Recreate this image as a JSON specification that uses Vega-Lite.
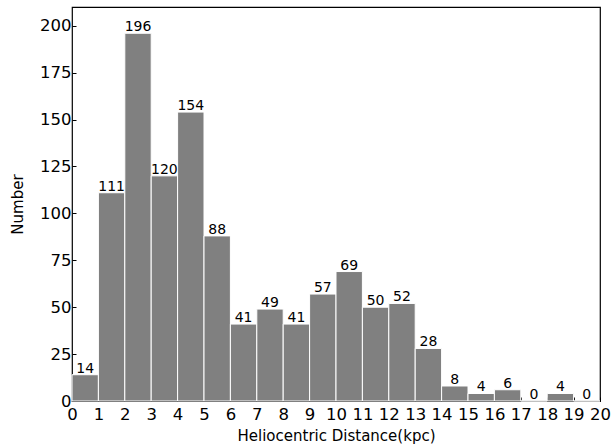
{
  "$schema": "https://vega.github.io/schema/vega-lite/v6.json",
  "width": 528,
  "height": 394,
  "autosize": "none",
  "padding": {"left": 72, "top": 7, "right": 11, "bottom": 45},
  "config": {
    "font": "DejaVu Sans",
    "view": {"stroke": "black", "strokeWidth": 1.2},
    "axis": {"grid": false, "domain": false, "tickSize": -4, "tickColor": "black",
      "labelFont": "DejaVu Sans", "labelFontSize": 16.5, "labelColor": "black", "labelOverlap": false, "labelFlush": false, "labelBound": false,
      "titleFont": "DejaVu Sans", "titleFontSize": 15, "titleFontWeight": "normal", "titleColor": "black"}
  },
  "data": {"values": [
    {"lo": 0, "hi": 1, "n": 14}, {"lo": 1, "hi": 2, "n": 111}, {"lo": 2, "hi": 3, "n": 196},
    {"lo": 3, "hi": 4, "n": 120}, {"lo": 4, "hi": 5, "n": 154}, {"lo": 5, "hi": 6, "n": 88},
    {"lo": 6, "hi": 7, "n": 41}, {"lo": 7, "hi": 8, "n": 49}, {"lo": 8, "hi": 9, "n": 41},
    {"lo": 9, "hi": 10, "n": 57}, {"lo": 10, "hi": 11, "n": 69}, {"lo": 11, "hi": 12, "n": 50},
    {"lo": 12, "hi": 13, "n": 52}, {"lo": 13, "hi": 14, "n": 28}, {"lo": 14, "hi": 15, "n": 8},
    {"lo": 15, "hi": 16, "n": 4}, {"lo": 16, "hi": 17, "n": 6}, {"lo": 17, "hi": 18, "n": 0},
    {"lo": 18, "hi": 19, "n": 4}, {"lo": 19, "hi": 20, "n": 0}
  ]},
  "transform": [{"calculate": "(datum.lo + datum.hi) / 2", "as": "mid"}],
  "layer": [
    {
      "mark": {"type": "rect", "color": "#808080", "stroke": "white", "strokeWidth": 1},
      "encoding": {
        "x": {"field": "lo", "type": "quantitative", "scale": {"domain": [0, 20], "nice": false, "zero": false},
          "axis": {"values": [0,1,2,3,4,5,6,7,8,9,10,11,12,13,14,15,16,17,18,19,20], "labelPadding": 9, "title": "Heliocentric Distance(kpc)", "titlePadding": 6}},
        "x2": {"field": "hi"},
        "y": {"field": "n", "type": "quantitative", "scale": {"domain": [0, 210], "nice": false},
          "axis": {"values": [0,25,50,75,100,125,150,175,200], "labelPadding": 5, "title": "Number", "titlePadding": 14}},
        "y2": {"datum": 0}
      }
    },
    {
      "mark": {"type": "text", "baseline": "alphabetic", "dy": -2, "fontSize": 14, "color": "black", "font": "DejaVu Sans"},
      "encoding": {
        "x": {"field": "mid", "type": "quantitative",
          "axis": {"values": [0,1,2,3,4,5,6,7,8,9,10,11,12,13,14,15,16,17,18,19,20], "labelPadding": 9, "title": "Heliocentric Distance(kpc)", "titlePadding": 6}},
        "y": {"field": "n", "type": "quantitative",
          "axis": {"values": [0,25,50,75,100,125,150,175,200], "labelPadding": 5, "title": "Number", "titlePadding": 14}},
        "text": {"field": "n", "type": "quantitative"}
      }
    }
  ]
}
